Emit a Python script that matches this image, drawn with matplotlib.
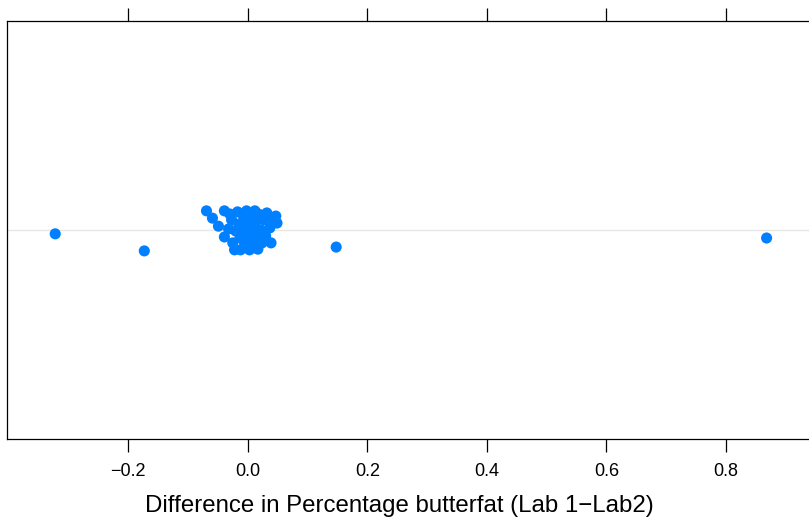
import matplotlib
matplotlib.use("Agg")
import matplotlib.pyplot as plt

plt.rcParams['font.family'] = ['Liberation Sans', 'DejaVu Sans']

# Differences (Lab1 - Lab2) and the jittered vertical positions (level = 1)
diffs = [-0.322, -0.173, 0.148, 0.868,
         -0.069, -0.059, -0.049, -0.039, -0.039, -0.032, -0.030,
         -0.027, -0.025, -0.022, -0.020, -0.017, -0.015, -0.013, -0.012,
         -0.008, -0.007, -0.005, -0.002, 0.000, 0.002, 0.003, 0.005,
         0.007, 0.008, 0.012, 0.013, 0.015, 0.017, 0.018, 0.022,
         0.024, 0.027, 0.030, 0.032, 0.037, 0.039, 0.047, 0.049, 0.042]
jitter_y = [0.989, 0.940, 0.951, 0.977,
            1.055, 1.034, 1.011, 1.055, 0.980, 1.003, 1.046,
            1.029, 0.963, 0.943, 0.997, 1.052, 1.017, 0.977, 0.943,
            1.043, 1.000, 0.960, 1.055, 1.023, 0.983, 0.943, 1.040,
            1.003, 0.963, 1.055, 1.023, 0.983, 0.945, 1.046, 1.000,
            0.963, 1.029, 0.983, 1.049, 1.006, 0.963, 1.040, 1.020, 1.032]
xticks = [-0.2, 0.0, 0.2, 0.4, 0.6, 0.8]
xticklabels = ['\u22120.2', '0.0', '0.2', '0.4', '0.6', '0.8']
xlabel = "Difference in Percentage butterfat (Lab 1\u2212Lab2)"

fig = plt.figure(figsize=(8.09, 5.30), dpi=100)
ax = fig.add_axes([6.5/809, 1 - 439/530, 1 - 6.5/809 + 0.003, (439 - 21)/530])
ax.axhline(1.0, color='#e6e6e6', lw=1, zorder=1)
ax.scatter(diffs, jitter_y, s=64, color='#0080ff', edgecolors='none', zorder=3)
ax.set_xlim(-0.4035, 0.943)
ax.set_ylim(0.4, 1.6)
ax.set_yticks([])
ax.set_xticks(xticks)
ax.set_xticklabels(xticklabels)
ax.tick_params(axis='x', direction='out', length=9.4, width=0.9, top=True,
               labeltop=False, labelsize=13, pad=8)
for s in ax.spines.values():
    s.set_linewidth(0.9)
ax.set_xlabel(xlabel, fontsize=17.3, labelpad=11, x=0.4876)
fig.savefig("out.png", dpi=100)
